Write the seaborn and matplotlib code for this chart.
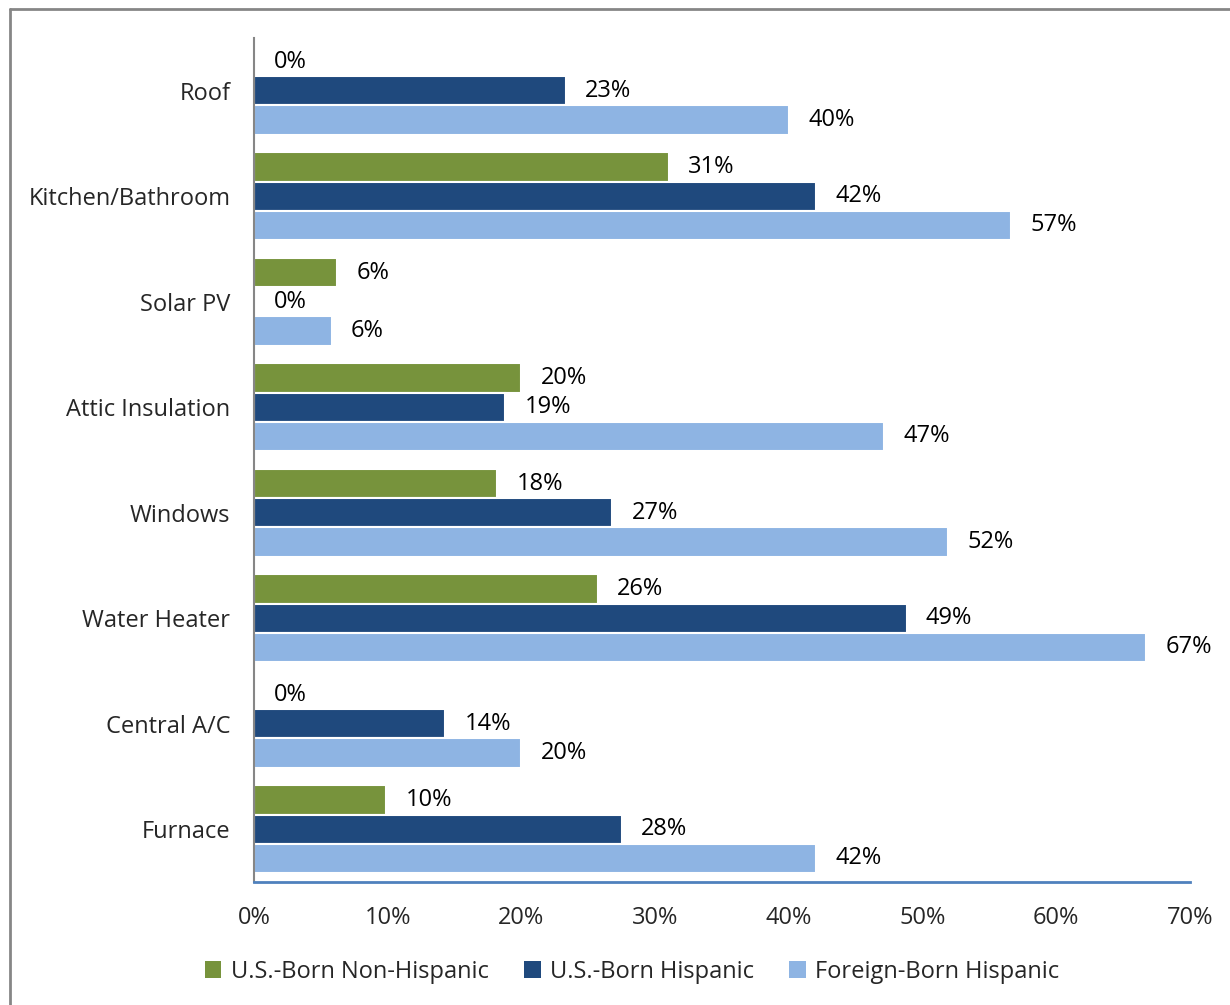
import matplotlib
matplotlib.use("Agg")
import matplotlib.pyplot as plt
import seaborn as sns
import pandas as pd
from matplotlib.lines import Line2D
from matplotlib.patches import Patch

categories = ["Roof", "Kitchen/Bathroom", "Solar PV", "Attic Insulation",
              "Windows", "Water Heater", "Central A/C", "Furnace"]
series_names = ["U.S.-Born Non-Hispanic", "U.S.-Born Hispanic", "Foreign-Born Hispanic"]
us_born_non_hispanic = [0.0, 31.0, 6.2, 20.0, 18.2, 25.7, 0.0, 9.9]
us_born_hispanic = [23.3, 42.0, 0.0, 18.8, 26.8, 48.8, 14.3, 27.5]
foreign_born_hispanic = [40.0, 56.6, 5.8, 47.1, 51.9, 66.7, 20.0, 42.0]
colors = ["#77933C", "#1F497D", "#8EB4E3"]
xticks = [0, 10, 20, 30, 40, 50, 60, 70]

rows = []
for name, vals in zip(series_names, [us_born_non_hispanic, us_born_hispanic, foreign_born_hispanic]):
    for c, v in zip(categories, vals):
        rows.append({"category": c, "series": name, "value": v})
df = pd.DataFrame(rows)

sns.set_theme(style="white")
plt.rcParams["font.family"] = ["Open Sans", "DejaVu Sans"]

FS = 17
fig = plt.figure(figsize=(12.30, 10.05), dpi=100)
ax = fig.add_axes([254 / 1230, 1 - 882 / 1005, (1190 - 254) / 1230, (882 - 38) / 1005])

sns.barplot(data=df, y="category", x="value", hue="series", order=categories,
            hue_order=series_names, palette=colors, orient="h", width=0.83,
            edgecolor="white", linewidth=1.5, saturation=1, legend=False, ax=ax)

for cont in ax.containers:
    labels = [f"{round(b.get_width()):d}%" for b in cont]
    ax.bar_label(cont, labels=labels, padding=14, fontsize=FS, color="black")

ax.set_xlim(0, 70)
ax.set_ylim(7.5, -0.5)
ax.set_xticks(xticks)
ax.set_xticklabels([f"{t}%" for t in xticks], fontsize=FS)
ax.tick_params(axis="x", pad=17, length=0)
ax.tick_params(axis="y", pad=17, length=0, labelsize=FS)
ax.set_xlabel("")
ax.set_ylabel("")
for s in ["top", "right"]:
    ax.spines[s].set_visible(False)
ax.spines["left"].set_color("#868686")
ax.spines["left"].set_linewidth(1.5)
ax.spines["bottom"].set_color("#4F81BD")
ax.spines["bottom"].set_linewidth(2)

handles = [Patch(facecolor=c, edgecolor="none") for c in colors]
fig.legend(handles, series_names, loc="center", bbox_to_anchor=(0.514, 1 - 972 / 1005),
           ncol=3, frameon=False, fontsize=FS, handlelength=0.7, handleheight=0.7,
           handletextpad=0.4, columnspacing=1.5)

# outer chart frame
fig.add_artist(Line2D([10 / 1230, 10 / 1230], [0, 1 - 9 / 1005], transform=fig.transFigure,
                      color="#868686", linewidth=2))
fig.add_artist(Line2D([10 / 1230, 1], [1 - 9 / 1005, 1 - 9 / 1005], transform=fig.transFigure,
                      color="#868686", linewidth=2))

fig.savefig("out.png", dpi=100, facecolor="white")
